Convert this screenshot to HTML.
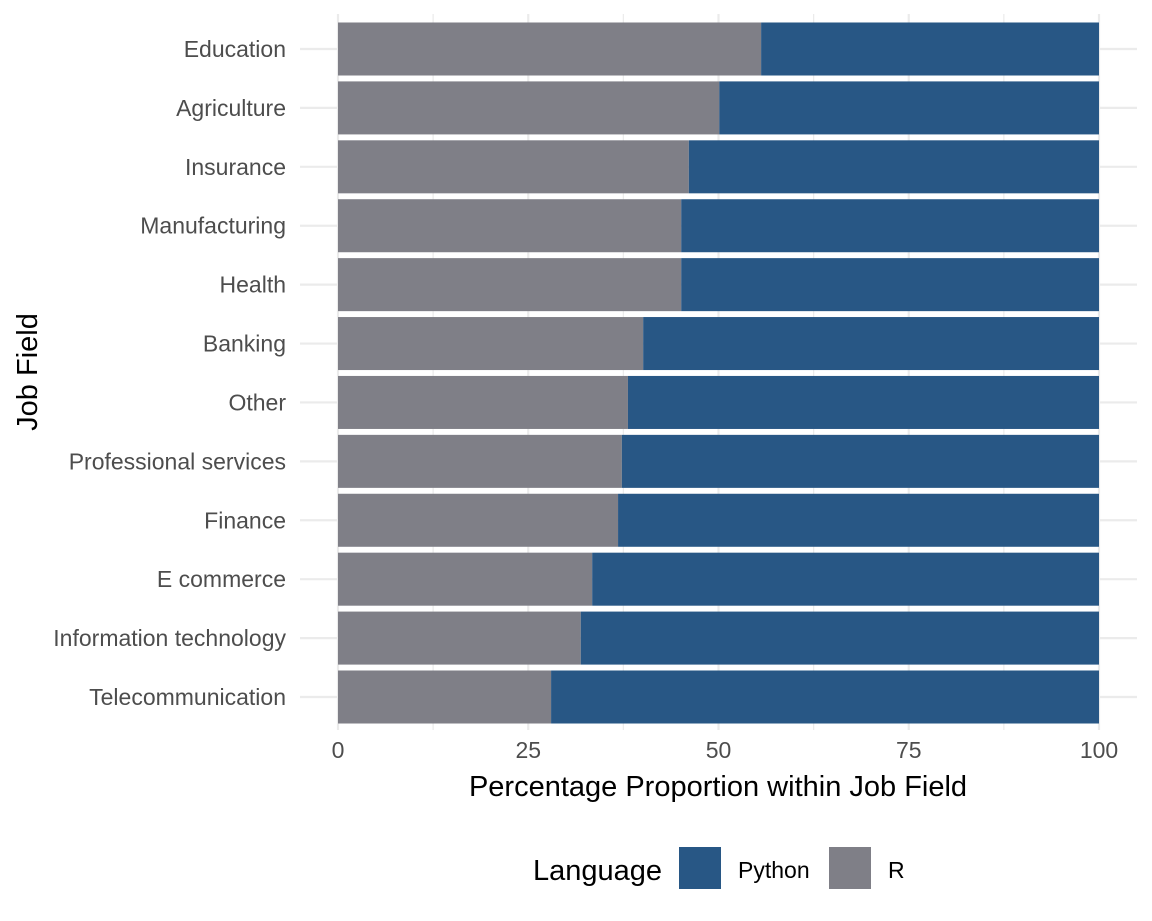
<!DOCTYPE html>
<html><head><meta charset="utf-8"><style>
body{margin:0;background:#fff;font-family:"Liberation Sans",Arial,sans-serif}
svg{display:block}
</style></head><body>
<svg id="chart" width="1152" height="921" viewBox="0 0 1152 921" xmlns="http://www.w3.org/2000/svg">
<g id="grid"></g>
<g id="bars"></g>
<g id="ylabels"></g>
<g id="xlabels"></g>
<text x="718" y="796" font-size="29" text-anchor="middle" fill="#000">Percentage Proportion within Job Field</text>
<text transform="translate(37,372) rotate(-90)" font-size="29" text-anchor="middle" fill="#000">Job Field</text>
<g>
<text x="533" y="880" font-size="29" fill="#000">Language</text>
<rect x="679" y="847" width="42" height="42" fill="#285785"/>
<text x="738" y="878" font-size="23" fill="#000">Python</text>
<rect x="829" y="847" width="42" height="42" fill="#7f7f87"/>
<text x="888" y="878" font-size="23" fill="#000">R</text>
</g>
</svg>
<script>
const categories = ["Education","Agriculture","Insurance","Manufacturing","Health","Banking","Other","Professional services","Finance","E commerce","Information technology","Telecommunication"];
const rValues = [55.6,50.1,46.1,45.1,45.1,40.1,38.1,37.3,36.8,33.4,31.9,28.0];
const xTicks = [0,25,50,75,100];
const xTickLabels = ["0","25","50","75","100"];

(function(){
const NS="http://www.w3.org/2000/svg";
const x0=338, x1=1099, panelTop=14, panelBottom=730;
const xs=v=>x0+(x1-x0)*v/100;
const step=(697-49)/11;
const yc=i=>49+i*step;
const bh=step*0.9;
function mk(tag,attrs,parent){const e=document.createElementNS(NS,tag);for(const k in attrs)e.setAttribute(k,attrs[k]);parent.appendChild(e);return e;}
const grid=document.getElementById('grid'),bars=document.getElementById('bars'),yl=document.getElementById('ylabels'),xl=document.getElementById('xlabels');
for(let t=0;t<=100;t+=12.5){
  const l=mk('line',{x1:xs(t),x2:xs(t),y1:panelTop,y2:panelBottom,stroke:'#ebebeb','stroke-width':(t%25===0)?2.2:1.2},grid);
  
  
}
categories.forEach((c,i)=>{
  const g=mk('line',{x1:300,x2:1137,y1:yc(i),y2:yc(i),stroke:'#ebebeb','stroke-width':2.2},grid);
  
  
  const r=mk('rect',{x:xs(0),y:yc(i)-bh/2,width:xs(rValues[i])-xs(0),height:bh,fill:'#7f7f87'},bars);
  
  
  const p=mk('rect',{x:xs(rValues[i]),y:yc(i)-bh/2,width:xs(100)-xs(rValues[i]),height:bh,fill:'#285785'},bars);
  
  
  const t=mk('text',{x:286,y:yc(i)+8,'font-size':23,'text-anchor':'end',fill:'#4d4d4d'},yl);
  t.textContent=c;
  
  
});
xTicks.forEach((v,i)=>{
  const t=mk('text',{x:xs(v),y:758,'font-size':23,'text-anchor':'middle',fill:'#4d4d4d'},xl);
  t.textContent=xTickLabels[i];
  
  
});
})();
</script>
</body></html>
